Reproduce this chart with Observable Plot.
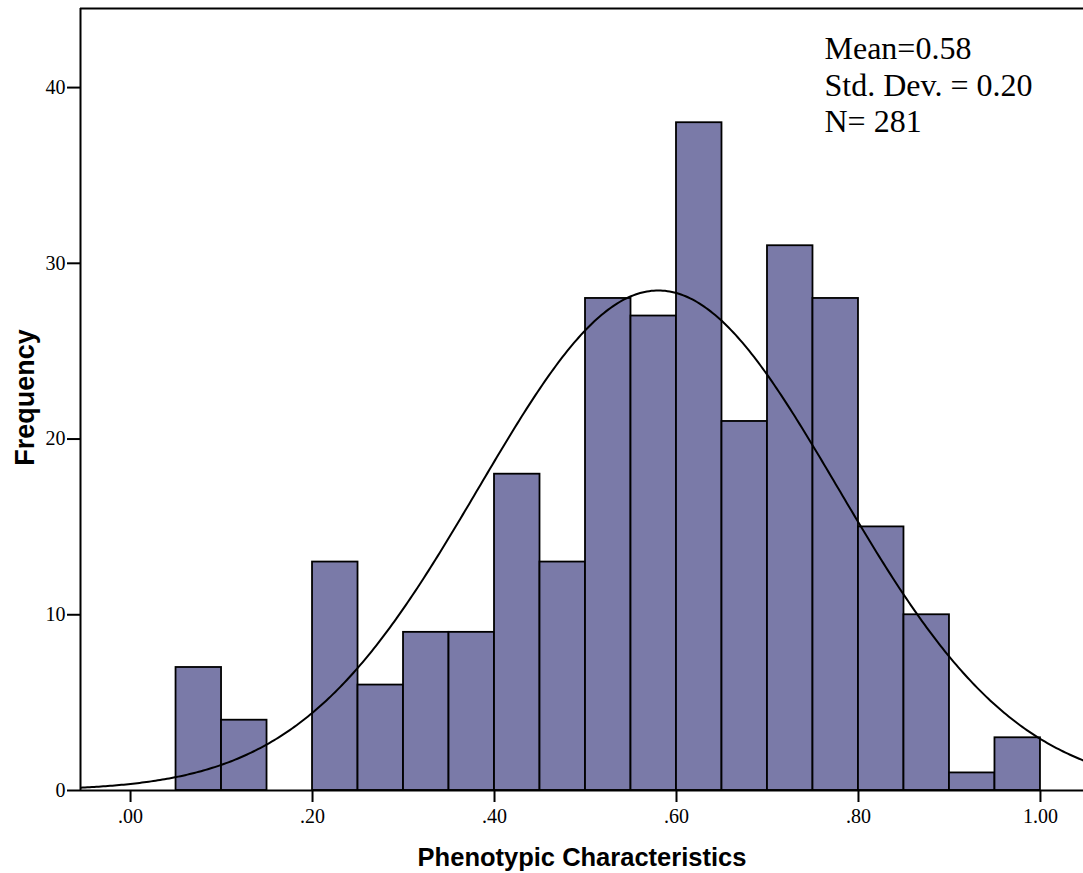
<!DOCTYPE html>
<html>
<head>
<meta charset="utf-8">
<script src="https://cdn.jsdelivr.net/npm/d3@7"></script>
<script src="https://cdn.jsdelivr.net/npm/@observablehq/plot@0.6"></script>
<style>
  html, body { margin: 0; padding: 0; background: #fff; }
  #chart svg { display: block; }
</style>
</head>
<body>
<div id="chart"></div>
<script>
// ---- data ----
const binStarts = [0.05, 0.10, 0.15, 0.20, 0.25, 0.30, 0.35, 0.40, 0.45, 0.50, 0.55, 0.60, 0.65, 0.70, 0.75, 0.80, 0.85, 0.90, 0.95];
const binWidth = 0.05;
const counts    = [7, 4, 0, 13, 6, 9, 9, 18, 13, 28, 27, 38, 21, 31, 28, 15, 10, 1, 3];
const meanValue = 0.58;
const sdValue = 0.197;      // reported as 0.20
const nValue = 281;
const xTicks = [0, 0.2, 0.4, 0.6, 0.8, 1.0];
const xTickLabels = [".00", ".20", ".40", ".60", ".80", "1.00"];
const yTicks = [0, 10, 20, 30, 40];
const statLines = ["Mean=0.58", "Std. Dev. = 0.20", "N= 281"];
const xTitle = "Phenotypic Characteristics";
const yTitle = "Frequency";

// ---- derived ----
const bins = binStarts.map((s, i) => ({x1: s, x2: s + binWidth, y: counts[i]})).filter(d => d.y > 0);
const xDomain = [-0.055, 1.0473];
const yDomain = [0, 44.5];
// fitted normal curve (expected frequency per bin) from the reported statistics
const curve = d3.range(xDomain[0], xDomain[1] + 0.001, 0.0025).map(x => ({
  x,
  y: nValue * binWidth / (sdValue * Math.sqrt(2 * Math.PI)) * Math.exp(-0.5 * ((x - meanValue) / sdValue) ** 2)
}));

const serif = "'Liberation Serif', 'Times New Roman', serif";
const sans = "'Liberation Sans', Arial, sans-serif";

const chart = Plot.plot({
  width: 1083,
  height: 873,
  marginLeft: 80,
  marginRight: 0,
  marginTop: 8,
  marginBottom: 83,
  style: {fontFamily: serif, fontSize: "20px", color: "#000", background: "#fff", overflow: "visible"},
  x: {domain: xDomain, label: null},
  y: {domain: yDomain, label: null},
  marks: [
    Plot.rectY(bins, {x1: "x1", x2: "x2", y: "y", fill: "#7a7aa8", stroke: "#000", strokeWidth: 1.8, insetLeft: 0, insetRight: 0}),
    Plot.line(curve, {x: "x", y: "y", stroke: "#000", strokeWidth: 2, clip: true}),
    Plot.ruleY([0], {stroke: "#000", strokeWidth: 2}),
    Plot.ruleX([xDomain[0]], {stroke: "#000", strokeWidth: 2}),
    Plot.ruleY([yDomain[1]], {stroke: "#000", strokeWidth: 2}),
    Plot.axisX({ticks: xTicks, tickFormat: (d, i) => xTickLabels[i], tickSize: 12, tickPadding: 6, strokeWidth: 2, stroke: "#000", fontSize: 20, fontFamily: serif}),
    Plot.axisY({ticks: yTicks, tickFormat: d => String(d), tickSize: 13, tickPadding: 2, strokeWidth: 2, stroke: "#000", fontSize: 20, fontFamily: serif}),
    Plot.text([statLines.join("\n")], {frameAnchor: "top-left", textAnchor: "start", lineAnchor: "top", dx: 744, dy: 25, fontSize: 32, fontFamily: serif, lineHeight: 1.14, fill: "#000"}),
    Plot.text([xTitle], {frameAnchor: "bottom", lineAnchor: "bottom", dy: 75, dx: 0, fontSize: 25.5, fontWeight: "bold", fontFamily: sans, fill: "#000"}),
    Plot.text([yTitle], {frameAnchor: "left", textAnchor: "middle", lineAnchor: "middle", rotate: -90, dx: -55, dy: -2, fontSize: 27, fontWeight: "bold", fontFamily: sans, fill: "#000"})
  ]
});
document.getElementById("chart").appendChild(chart);
</script>
</body>
</html>
